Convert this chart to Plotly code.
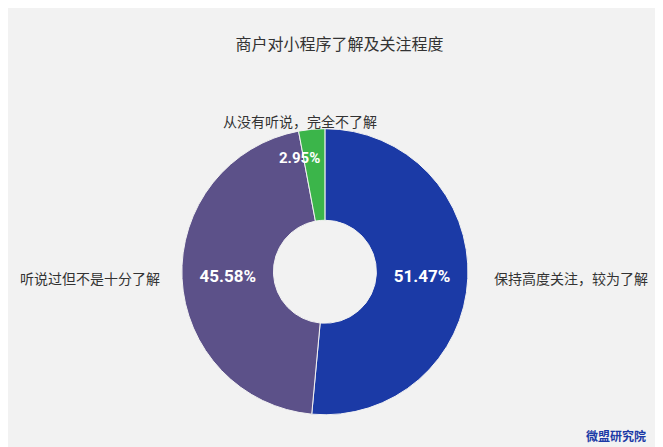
import plotly.graph_objects as go

labels = ["保持高度关注，较为了解", "听说过但不是十分了解", "从没有听说，完全不了解"]
values = [51.47, 45.58, 2.95]
colors = ["#1b3aa6", "#5c5189", "#3bb54a"]

fig = go.Figure(go.Pie(
    labels=labels, values=values, sort=False, direction="clockwise", rotation=0,
    hole=0.36, marker=dict(colors=colors, line=dict(color="#f2f2f2", width=1)),
    texttemplate="%{value:.2f}%", textinfo="text", textposition=["inside", "inside", "none"],
    insidetextorientation="horizontal",
    textfont=dict(family="Roboto", size=17, color="white", weight="bold"),
    domain=dict(x=[0.254, 0.702], y=[0.09, 0.73]),
    showlegend=False,
))

lab_font = dict(family="Noto Sans CJK SC", size=14, color="#333")
fig.add_annotation(x=0.73, y=0.395, text=labels[0], showarrow=False, xanchor="left", font=lab_font)
fig.add_annotation(x=0.015, y=0.395, text=labels[1], showarrow=False, xanchor="left", font=lab_font)
fig.add_annotation(x=0.44, y=0.775, text=labels[2], showarrow=False, font=lab_font)
fig.add_annotation(x=0.44, y=0.69, text=f"{values[2]:.2f}%", showarrow=False,
                   font=dict(family="Roboto", size=15, color="white", weight="bold"))
fig.update_annotations(xref="paper", yref="paper")
fig.add_annotation(x=0.965, y=0.02, xref="paper", yref="paper", text="<b>微盟研究院</b>",
                   showarrow=False, xanchor="right", yanchor="bottom",
                   font=dict(family="Noto Sans CJK SC", size=12, color="#1b3aa6"))

fig.update_layout(
    width=663, height=447, paper_bgcolor="#f2f2f2", plot_bgcolor="#f2f2f2",
    margin=dict(l=0, r=0, t=0, b=0),
    title=dict(text="商户对小程序了解及关注程度", x=0.5, y=0.93, xanchor="center",
               font=dict(family="Noto Sans CJK SC", size=16, color="#333")),
)
fig.write_html("out.html")
